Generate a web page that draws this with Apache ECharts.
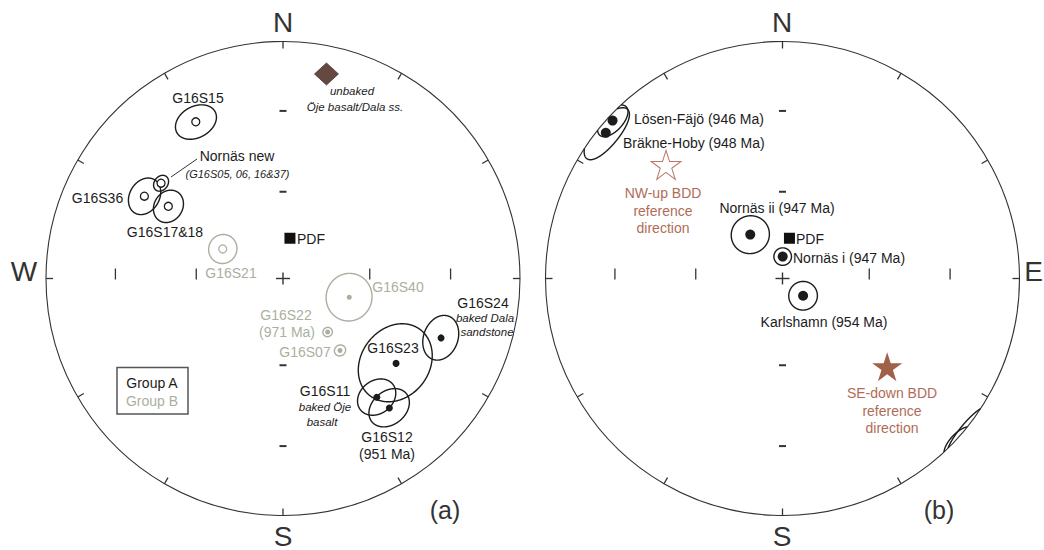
<!DOCTYPE html>
<html>
<head>
<meta charset="utf-8">
<title>Equal-area projections of site-mean directions</title>
<script src="https://cdn.jsdelivr.net/npm/echarts@6.0.0/dist/echarts.min.js"></script>
<style>
  html, body { margin: 0; padding: 0; background: #fff; }
  #main { width: 1044px; height: 550px; }
</style>
</head>
<body>
<div id="main"></div>
<script>
// ---------- data ----------
// Panel (a): site-mean directions (declination, inclination, alpha95 in degrees).
// Negative inclination = upper hemisphere (open symbol).
const sitesA  = ['G16S15', 'Nornäs new', 'G16S36', 'G16S17&18', 'G16S21', 'G16S40', 'G16S22', 'G16S07', 'G16S23', 'G16S24', 'G16S11', 'G16S12'];
const decA    = [330.9, 308.0, 300.7, 302.2, 296.1, 105.8, 140.2, 141.6, 126.9, 110.6, 141.7, 140.6];
const incA    = [-25.3, -35.0, -32.5, -42.3, -66.9, 66.3, 66.0, 58.2, 40.1, 29.5, 36.3, 30.0];
const a95A    = [6.3, 2.6, 5.8, 5.3, 4.9, 8.0, 1.6, 1.9, 12.9, 6.8, 6.3, 6.6];
const groupA  = ['A', 'A', 'A', 'A', 'B', 'B', 'B', 'B', 'A', 'A', 'A', 'A'];

// unbaked Öje basalt / Dala sandstone mean
const unbakedDec = 12.0;
const unbakedInc = 12.8;

// Panel (b): ~950 Ma Baltica directions; oval semi-axes along declination (dm) and inclination (dp)
const sitesB  = ['Lösen-Fäjö (946 Ma)', 'Bräkne-Hoby (948 Ma)', 'Nornäs ii (947 Ma)', 'Nornäs i (947 Ma)', 'Karlshamn (954 Ma)'];
const decB    = [312.9, 309.5, 323.7, 0.5, 130.0];
const incB    = [2.4, 3.8, 71.3, 82.5, 80.8];
const dmB     = [4.8, 8.0, 6.5, 3.0, 4.9];
const dpB     = [4.8, 6.0, 6.5, 3.0, 4.9];

// BDD reference directions
const refNames = ['NW-up BDD reference direction', 'SE-down BDD reference direction'];
const refDec   = [314.3, 130.1];
const refInc   = [-31.9, 41.8];

// present dipole field
const pdfDec = 9.8;
const pdfInc = 76.0;

// stereonet furniture
const edgeTickAz = [0, 30, 60, 90, 120, 150, 180, 210, 240, 270, 300, 330];
const incTicks   = [30, 60];

// ---------- equal-area (Schmidt) projection helpers ----------
const D2R = Math.PI / 180;
function vec(dec, inc) {
  const d = dec * D2R, i = inc * D2R;
  return [Math.cos(i) * Math.cos(d), Math.cos(i) * Math.sin(d), Math.sin(i)];
}
// returns [east, north] in units where the primitive has radius 1
function proj(v) {
  const h = Math.hypot(v[0], v[1]);
  const theta = Math.atan2(h, Math.abs(v[2]));
  const r = Math.SQRT2 * Math.sin(theta / 2);
  if (h < 1e-12) return [0, 0];
  return [r * v[1] / h, r * v[0] / h];
}
function projDI(dec, inc) { return proj(vec(dec, inc)); }
function incRadius(inc) { return Math.SQRT2 * Math.sin((90 - inc) * D2R / 2); }

// confidence oval around a direction; parts that cross the horizontal
// are drawn at the antipode, so the result may be split into pieces
function ovalPieces(dec, inc, a, b) {
  const c = vec(dec, inc);
  const d = dec * D2R, i = inc * D2R;
  const t = [-Math.sin(d), Math.cos(d), 0];
  const s = [-Math.sin(i) * Math.cos(d), -Math.sin(i) * Math.sin(d), Math.cos(i)];
  const ar = a * D2R, br = b * D2R;
  const side = inc >= 0 ? 1 : -1;
  const pieces = [];
  let cur = null, curFlag = null;
  for (let k = 0; k <= 720; k++) {
    const f = k * Math.PI / 360;
    const cf = Math.cos(f), sf = Math.sin(f);
    const rho = 1 / Math.sqrt(cf * cf / (ar * ar) + sf * sf / (br * br));
    const cr = Math.cos(rho), sr = Math.sin(rho);
    let p = [0, 1, 2].map(j => c[j] * cr + (t[j] * cf + s[j] * sf) * sr);
    const same = p[2] * side >= 0;
    if (!same) p = p.map(x => -x);
    if (same !== curFlag) { cur = []; pieces.push(cur); curFlag = same; }
    cur.push(proj(p));
  }
  if (pieces.length > 1) {
    const first = pieces.shift();
    pieces[pieces.length - 1] = pieces[pieces.length - 1].concat(first.slice(1));
  }
  return pieces;
}

// ---------- styles ----------
const INK = '#1c1c1c';
const GREY = '#aab0a0';
const BROWN = '#b06c58';
const FONT = '"Liberation Sans", Arial, sans-serif';

// ---------- build oval and marker lists ----------
const ovalsA = sitesA.map((n, k) => ({
  center: projDI(decA[k], incA[k]),
  pieces: ovalPieces(decA[k], incA[k], a95A[k], a95A[k]),
  color: groupA[k] === 'B' ? GREY : INK
}));
const ovalsB = sitesB.map((n, k) => ({
  center: projDI(decB[k], incB[k]),
  pieces: ovalPieces(decB[k], incB[k], dmB[k], dpB[k]),
  color: INK
}));

function markerItems(names, decs, incs, groups, sizeFilledA, sizeFilledB, sizeOpen) {
  return names.map((n, k) => {
    const isB = groups && groups[k] === 'B';
    const col = isB ? GREY : INK;
    const up = incs[k] < 0;
    return {
      name: n,
      value: projDI(decs[k], incs[k]),
      symbolSize: up ? sizeOpen : (isB ? sizeFilledB : sizeFilledA),
      itemStyle: up
        ? { color: '#fff', borderColor: col, borderWidth: 1.3, opacity: 1 }
        : { color: col, borderWidth: 0, opacity: 1 }
    };
  });
}

function frameRender(params, api) {
  const c = api.coord([0, 0]);
  const R = api.coord([1, 0])[0] - c[0];
  const ch = [];
  ch.push({ type: 'circle', shape: { cx: c[0], cy: c[1], r: R }, style: { fill: 'none', stroke: '#333', lineWidth: 1.1 } });
  edgeTickAz.forEach(az => {
    const s = Math.sin(az * D2R), co = Math.cos(az * D2R);
    ch.push({ type: 'line', shape: { x1: c[0] + R * s, y1: c[1] - R * co, x2: c[0] + (R - 7) * s, y2: c[1] - (R - 7) * co },
      style: { stroke: '#333', lineWidth: 1.3 } });
  });
  incTicks.forEach(inc => {
    const r = incRadius(inc);
    [[r, 0], [-r, 0]].forEach(q => {
      const p = api.coord(q);
      ch.push({ type: 'line', shape: { x1: p[0], y1: p[1] - 10, x2: p[0], y2: p[1] + 1 }, style: { stroke: '#333', lineWidth: 1.3 } });
    });
    [[0, r], [0, -r]].forEach(q => {
      const p = api.coord(q);
      ch.push({ type: 'line', shape: { x1: p[0] - 3.5, y1: p[1], x2: p[0] + 3.5, y2: p[1] }, style: { stroke: '#333', lineWidth: 2 } });
    });
  });
  // centre cross
  ch.push({ type: 'line', shape: { x1: c[0] - 7, y1: c[1], x2: c[0] + 7, y2: c[1] }, style: { stroke: '#333', lineWidth: 1.4 } });
  ch.push({ type: 'line', shape: { x1: c[0], y1: c[1] - 6, x2: c[0], y2: c[1] + 6 }, style: { stroke: '#333', lineWidth: 1.4 } });
  return { type: 'group', children: ch };
}

function ovalRender(list) {
  return function (params, api) {
    const o = list[params.dataIndex];
    return {
      type: 'group',
      children: o.pieces.map(pc => ({
        type: 'polyline',
        shape: { points: pc.map(q => api.coord(q)) },
        style: { fill: 'none', stroke: o.color, lineWidth: 1.4 }
      }))
    };
  };
}

const STAR = 'path://M50,2 L61.2,36.5 L97.6,36.5 L68.2,57.9 L79.4,92.5 L50,71.1 L20.6,92.5 L31.8,57.9 L2.4,36.5 L38.8,36.5 Z';

// ---------- annotation layout (pixel positions) ----------
function t(text, x, y, opt) {
  opt = opt || {};
  return {
    type: 'text', x: x, y: y, z: 100,
    style: {
      text: text,
      font: (opt.italic ? 'italic ' : '') + (opt.size || 14) + 'px ' + FONT,
      fill: opt.color || INK,
      align: opt.align || 'center',
      verticalAlign: 'middle'
    }
  };
}
const annotations = [
  // compass letters
  t('N', 283, 22, { size: 28, color: '#333' }),
  t('W', 24, 271, { size: 28, color: '#333' }),
  t('S', 283, 536, { size: 28, color: '#333' }),
  t('N', 782, 22, { size: 28, color: '#333' }),
  t('E', 1043, 271, { size: 28, color: '#333', align: 'right' }),
  t('S', 782, 536, { size: 28, color: '#333' }),
  t('(a)', 445, 510, { size: 25, color: '#333' }),
  t('(b)', 939, 510, { size: 25, color: '#333' }),
  // panel (a)
  t('G16S15', 198, 98),
  t('Nornäs new', 237, 156),
  t('(G16S05, 06, 16&37)', 237.5, 174, { italic: true, size: 11 }),
  t('G16S36', 97.5, 197.5),
  t('G16S17&18', 165, 232),
  t('G16S21', 231, 273, { color: GREY }),
  t('PDF', 297, 239, { align: 'left' }),
  t('G16S40', 398, 287, { color: GREY }),
  t('G16S22', 286, 315, { color: GREY }),
  t('(971 Ma)', 287, 332, { color: GREY }),
  t('G16S07', 305, 352, { color: GREY }),
  t('G16S23', 393, 347.5),
  t('G16S24', 483, 303),
  t('baked Dala', 485, 317.5, { italic: true, size: 11.5 }),
  t('sandstone', 487, 332, { italic: true, size: 11.5 }),
  t('G16S11', 325, 391),
  t('baked Öje', 325, 407, { italic: true, size: 11.5 }),
  t('basalt', 322, 422, { italic: true, size: 11.5 }),
  t('G16S12', 387, 437),
  t('(951 Ma)', 387, 454),
  t('unbaked', 352, 91, { italic: true, size: 11.5 }),
  t('Öje basalt/Dala ss.', 355, 107, { italic: true, size: 11.5 }),
  t('Group A', 152, 383),
  t('Group B', 152, 401, { color: GREY }),
  // panel (b)
  t('Lösen-Fäjö (946 Ma)', 634, 119, { align: 'left' }),
  t('Bräkne-Hoby (948 Ma)', 623, 143, { align: 'left' }),
  t('NW-up BDD', 663, 193, { color: BROWN }),
  t('reference', 663, 211, { color: BROWN }),
  t('direction', 663, 228, { color: BROWN }),
  t('Nornäs ii (947 Ma)', 777, 208),
  t('PDF', 796, 239, { align: 'left' }),
  t('Nornäs i (947 Ma)', 793, 258, { align: 'left' }),
  t('Karlshamn (954 Ma)', 824, 322),
  t('SE-down BDD', 892, 393, { color: BROWN }),
  t('reference', 892, 411, { color: BROWN }),
  t('direction', 892, 428, { color: BROWN }),
  // legend frame and leader line
  { type: 'rect', z: 90, shape: { x: 117, y: 367.5, width: 71, height: 46.5 }, style: { fill: 'none', stroke: '#555', lineWidth: 1.5 } },
  { type: 'line', z: 90, shape: { x1: 171, y1: 177, x2: 197, y2: 159 }, style: { stroke: '#333', lineWidth: 1 } }
];

// ---------- chart ----------
const chart = echarts.init(document.getElementById('main'), null, { renderer: 'svg' });

const grids = [
  { left: 46, top: 41.5, width: 474, height: 474 },
  { left: 545.5, top: 41.5, width: 474, height: 474 }
];
const axisBase = { type: 'value', min: -1, max: 1, show: false };

const series = [];
[0, 1].forEach(g => {
  series.push({
    type: 'custom', coordinateSystem: 'cartesian2d', xAxisIndex: g, yAxisIndex: g,
    renderItem: frameRender, data: [[0, 0]], silent: true, z: 1
  });
});
series.push({
  type: 'custom', coordinateSystem: 'cartesian2d', xAxisIndex: 0, yAxisIndex: 0,
  renderItem: ovalRender(ovalsA), data: ovalsA.map(o => o.center), silent: true, z: 2
});
series.push({
  type: 'custom', coordinateSystem: 'cartesian2d', xAxisIndex: 1, yAxisIndex: 1,
  renderItem: ovalRender(ovalsB), data: ovalsB.map(o => o.center), silent: true, z: 2
});
series.push({
  type: 'scatter', xAxisIndex: 0, yAxisIndex: 0, z: 5, symbol: 'circle',
  data: markerItems(sitesA, decA, incA, groupA, 7, 5, 8)
});
series.push({
  type: 'scatter', xAxisIndex: 1, yAxisIndex: 1, z: 5, symbol: 'circle',
  data: markerItems(sitesB, decB, incB, null, 10, 10, 10)
});
// PDF squares
[0, 1].forEach(g => {
  series.push({
    type: 'scatter', xAxisIndex: g, yAxisIndex: g, z: 5, symbol: 'rect', symbolSize: 11,
    itemStyle: { color: '#111', opacity: 1 }, data: [{ name: 'PDF', value: projDI(pdfDec, pdfInc) }]
  });
});
// unbaked test mean
series.push({
  type: 'scatter', xAxisIndex: 0, yAxisIndex: 0, z: 5, symbol: 'diamond', symbolSize: [24, 22],
  itemStyle: { color: '#65483f', borderColor: '#4d3832', borderWidth: 0.8, opacity: 1 },
  data: [{ name: 'unbaked Öje basalt/Dala ss.', value: projDI(unbakedDec, unbakedInc) }]
});
// BDD reference directions
series.push({
  type: 'scatter', xAxisIndex: 1, yAxisIndex: 1, z: 5, symbol: STAR, symbolSize: [30, 29],
  data: refNames.map((n, k) => ({
    name: n,
    value: projDI(refDec[k], refInc[k]),
    itemStyle: refInc[k] < 0
      ? { color: '#fff', borderColor: '#b87a66', borderWidth: 1, opacity: 1 }
      : { color: '#a0604a', borderWidth: 0, opacity: 1 }
  }))
});

chart.setOption({
  animation: false,
  backgroundColor: '#fff',
  grid: grids,
  xAxis: [Object.assign({ gridIndex: 0 }, axisBase), Object.assign({ gridIndex: 1 }, axisBase)],
  yAxis: [Object.assign({ gridIndex: 0 }, axisBase), Object.assign({ gridIndex: 1 }, axisBase)],
  series: series,
  graphic: annotations
});
</script>
</body>
</html>
